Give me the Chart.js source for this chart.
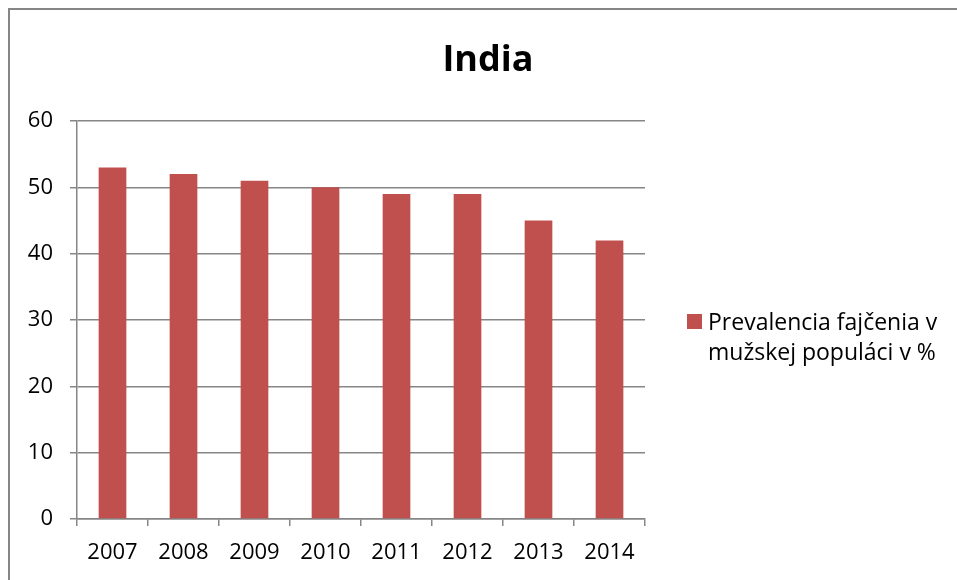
<!DOCTYPE html>
<html>
<head>
<meta charset="utf-8">
<title>India</title>
<script src="https://cdn.jsdelivr.net/npm/chart.js@4.4.1/dist/chart.umd.min.js"></script>
<style>
  html, body { margin: 0; padding: 0; background: #fff; }
  #wrap { width: 957px; height: 580px; position: relative; }
</style>
</head>
<body>
<div id="wrap"><canvas id="chart" width="957" height="580"></canvas></div>
<script>
// data
const YEARS = ['2007', '2008', '2009', '2010', '2011', '2012', '2013', '2014'];
const PREVALENCE = [53, 52, 51, 50, 49, 49, 45, 42];
const SERIES_LABEL = ['Prevalencia fajčenia v', 'mužskej populáci v %'];
const TITLE = 'India';

const BAR = '#C0504D';
const LINE = '#868686';
const FONT = "'Open Sans', 'Noto Sans', sans-serif";

// frame, title and the right-hand legend
const decor = {
  id: 'decor',
  afterDraw(chart) {
    const ctx = chart.ctx;
    ctx.save();
    ctx.strokeStyle = LINE;
    ctx.lineWidth = 2;
    ctx.strokeRect(9, 9, 1100, 1100);

    ctx.fillStyle = '#000';
    ctx.font = `bold 36px ${FONT}`;
    ctx.textAlign = 'center';
    ctx.textBaseline = 'alphabetic';
    ctx.fillText(TITLE, 488, 71);

    const ds = chart.data.datasets[0];
    ctx.fillStyle = ds.backgroundColor;
    ctx.fillRect(687, 314, 15, 15);
    ctx.fillStyle = '#000';
    ctx.font = `23px ${FONT}`;
    ctx.textAlign = 'left';
    ds.label.forEach((line, i) => ctx.fillText(line, 708, 330 + i * 30));
    ctx.restore();
  }
};

new Chart(document.getElementById('chart'), {
  type: 'bar',
  data: {
    labels: YEARS,
    datasets: [{
      label: SERIES_LABEL,
      data: PREVALENCE,
      backgroundColor: BAR,
      barPercentage: 0.39,
      categoryPercentage: 1
    }]
  },
  options: {
    responsive: false,
    animation: false,
    layout: { padding: { left: 0, right: 312, top: 121, bottom: 0 } },
    plugins: {
      legend: { display: false },
      title: { display: false },
      tooltip: { enabled: false }
    },
    scales: {
      y: {
        min: 0, max: 60,
        ticks: { stepSize: 10, padding: 17, color: '#000', font: { family: FONT, size: 22 } },
        grid: { color: LINE, lineWidth: 1.5, tickLength: 7 },
        border: { color: LINE, width: 1.5 },
        afterFit(scale) { scale.width = 77; }
      },
      x: {
        ticks: { padding: 14, color: '#000', font: { family: FONT, size: 22 } },
        grid: { offset: true, drawOnChartArea: false, color: LINE, lineWidth: 1.5, tickLength: 7 },
        border: { color: LINE, width: 1.5 },
        afterFit(scale) { scale.height = 61; }
      }
    }
  },
  plugins: [decor]
});
</script>
</body>
</html>
